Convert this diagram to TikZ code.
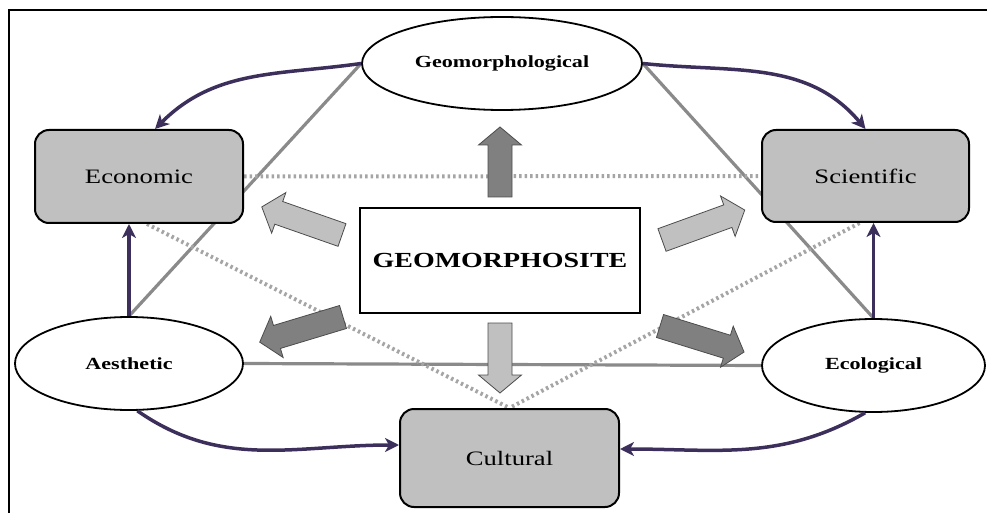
\documentclass[tikz,border=0pt]{standalone}
\usepackage{fontspec}
\setmainfont{Liberation Serif}[FakeStretch=1.3]
\usetikzlibrary{arrows.meta,shapes.geometric,backgrounds}

\definecolor{boxgray}{RGB}{192,192,192}
\definecolor{darkarrow}{RGB}{128,128,128}
\definecolor{linegray}{RGB}{138,138,138}
\definecolor{dotgray}{RGB}{165,165,165}
\definecolor{linkpurple}{RGB}{61,47,91}

\begin{document}
\begin{tikzpicture}[x=1pt,y=1pt,
    valuebox/.style={draw=black, line width=2pt, fill=boxgray, rounded corners=14pt,
        minimum width=208pt, minimum height=93pt, font=\fontsize{20.5}{24}\selectfont},
    valueoval/.style={ellipse, draw=black, line width=1.8pt, fill=white, inner sep=0pt,
        font=\bfseries\fontsize{17}{20}\selectfont},
    corebox/.style={draw=black, line width=2.6pt, fill=white, minimum width=280pt,
        minimum height=105pt, font=\bfseries\fontsize{21.5}{25}\selectfont},
    link/.style={linkpurple, line width=3.5pt, -{Stealth[length=14pt,width=14pt,inset=4pt]}},
    tie/.style={linegray, line width=3.2pt},
    dottie/.style={dotgray, line width=4pt, dash pattern=on 2.5pt off 3pt},
    blockarrow/.style={draw=black!70, line width=0.8pt, line join=miter}]

    \useasboundingbox (0,0) rectangle (987,512);

    % --- nodes ---
    \node[corebox] (core) at (500,251.5) {GEOMORPHOSITE};
    \node[valueoval, minimum width=280pt, minimum height=93pt] (geo) at (502,448.5) {Geomorphological};
    \node[valueoval, minimum width=228pt, minimum height=93pt] (aes) at (129,148.5) {Aesthetic};
    \node[valueoval, minimum width=223pt, minimum height=93pt] (eco) at (873.5,146.5) {Ecological};
    \node[valuebox] (econ) at (139,335.5) {Economic};
    \node[valuebox, minimum width=207pt, minimum height=92pt] (sci) at (865.5,336) {Scientific};
    \node[valuebox, minimum width=219pt, minimum height=98pt] (cult) at (509.5,54) {Cultural};

    % --- ties behind the nodes ---
    \begin{scope}[on background layer]
        \draw[black, line width=2.2pt] (1000,502) -- (9,502) -- (9,-20);
        \draw[tie] (geo.west) -- (aes.north);
        \draw[tie] (geo.east) -- (eco.north);
        \draw[tie] (aes.east) -- (eco.west);
        \draw[dottie] (econ.east) -- (sci.west);
        \draw[dottie] ([xshift=8pt]econ.south) -- (cult.north);
        \draw[dottie] ([xshift=-6pt]sci.south) -- (cult.north);
    \end{scope}

    % --- purple links ---
    \draw[link] (geo.west) to[out=188,in=45] ([xshift=16pt]econ.north);
    \draw[link] (geo.east) to[out=-6,in=130] (sci.north);
    \draw[link] (aes.north) -- (aes.north |- econ.south);
    \draw[link] (eco.north) -- (eco.north |- sci.south);
    \draw[link] (aes.280) to[out=-35,in=180] ([yshift=13pt]cult.west);
    \draw[link] (eco.260) to[out=210,in=0] ([yshift=9pt]cult.east);

    % --- block arrows out of the core (tail x/y, angle, length, fill) ---
    \foreach \px/\py/\ang/\len/\shade in {500/315/90/70/darkarrow, 500/189/-90/70/boxgray,
            342/277/160.7/85/boxgray, 662/272/19.9/88/boxgray,
            343/195/196.8/87/darkarrow, 660/186/-17.2/88/darkarrow}
        \draw[blockarrow, fill=\shade, shift={(\px,\py)}, rotate=\ang]
            (0,-12) -- (\len-18,-12) -- (\len-18,-21.5) -- (\len,0)
            -- (\len-18,21.5) -- (\len-18,12) -- (0,12) -- cycle;

\end{tikzpicture}
\end{document}
